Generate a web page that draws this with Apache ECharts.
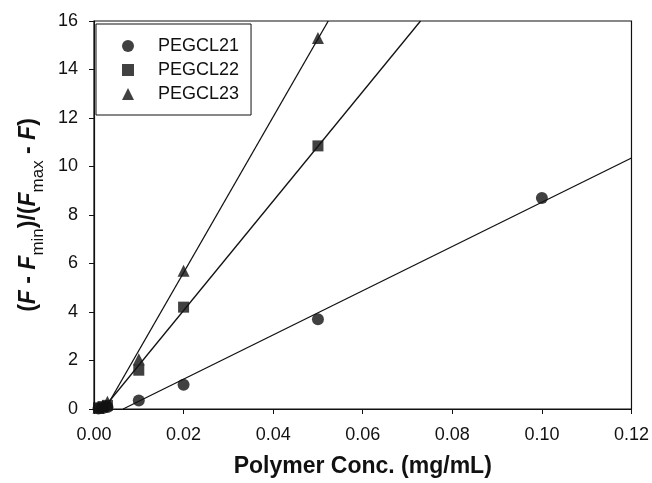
<!DOCTYPE html>
<html>
<head>
<meta charset="utf-8">
<script src="https://cdn.jsdelivr.net/npm/echarts@6/dist/echarts.min.js"></script>
<style>
  html, body { margin: 0; padding: 0; background: #fff; }
  #chart { width: 652px; height: 483px; }
</style>
</head>
<body>
<div id="chart"></div>
<script>
const x21 = [0.001, 0.002, 0.003, 0.01, 0.02, 0.05, 0.10]
const y21 = [0.02, 0.04, 0.08, 0.35, 1.0, 3.7, 8.7]
const x22 = [0.001, 0.002, 0.003, 0.01, 0.02, 0.05]
const y22 = [0.05, 0.1, 0.15, 1.6, 4.2, 10.85]
const x23 = [0.001, 0.002, 0.003, 0.01, 0.02, 0.05]
const y23 = [0.05, 0.12, 0.3, 2.05, 5.7, 15.3]

// regression lines (end points)
const fitX21 = [0.0065, 0.12]
const fitY21 = [0, 10.35]
const fitX22 = [0.002, 0.0729]
const fitY22 = [0, 16]
const fitX23 = [0.0025, 0.0523]
const fitY23 = [0, 16]

const xTicks = [0, 0.12, 0.02] // min, max, step
const yTicks = [0, 16, 2]

const zip = (xs, ys) => xs.map((x, i) => [x, ys[i]])

const font = 'Liberation Sans, Arial, sans-serif'
const ink = '#111'

const scatter = (name, symbol, size, xs, ys) => ({
  name,
  type: 'scatter',
  symbol,
  symbolSize: size,
  itemStyle: { color: ink },
  data: zip(xs, ys),
  z: 3,
})

const fit = (xs, ys) => ({
  type: 'line',
  showSymbol: false,
  symbol: 'none',
  lineStyle: { color: ink, width: 1.3 },
  data: zip(xs, ys),
  silent: true,
  z: 2,
})

const chart = echarts.init(document.getElementById('chart'))
chart.setOption({
  animation: false,
  backgroundColor: '#fff',
  textStyle: { fontFamily: font },
  grid: {
    left: 94, right: 19, top: 21, bottom: 74,
    show: true, borderColor: ink, borderWidth: 1.2,
  },
  legend: {
    left: 96, top: 24,
    orient: 'vertical',
    data: ['PEGCL21', 'PEGCL22', 'PEGCL23'],
    borderColor: ink, borderWidth: 1, borderRadius: 0,
    padding: [13, 12, 12, 26],
    itemGap: 6,
    itemWidth: 12, itemHeight: 12,
    textStyle: { fontSize: 18, color: ink, fontFamily: font, padding: [0, 0, 0, 19] },
  },
  xAxis: {
    type: 'value',
    min: xTicks[0], max: xTicks[1], interval: xTicks[2],
    name: 'Polymer Conc. (mg/mL)',
    nameLocation: 'middle',
    nameGap: 46,
    nameTextStyle: { fontSize: 23, fontWeight: 'bold', color: ink, fontFamily: font },
    axisLine: { lineStyle: { color: ink, width: 1.2 } },
    axisTick: { inside: false, length: 5, lineStyle: { color: ink } },
    axisLabel: { fontSize: 18, color: ink, margin: 17, formatter: v => v.toFixed(2) },
    splitLine: { show: false },
  },
  yAxis: {
    type: 'value',
    min: yTicks[0], max: yTicks[1], interval: yTicks[2],
    name: '{p|(}{f|F}{p| - }{f|F}{s|min}{p|)/(}{f|F}{s|max}{p| - }{f|F}{p|)}',
    nameLocation: 'middle',
    nameRotate: 90,
    nameGap: 52,
    nameTextStyle: {
      color: ink,
      rich: {
        p: { fontSize: 23, fontWeight: 'bold', fontFamily: font, color: ink, verticalAlign: 'bottom', lineHeight: 30 },
        f: { fontSize: 23, fontWeight: 'bold', fontStyle: 'italic', fontFamily: font, color: ink, verticalAlign: 'bottom', lineHeight: 30 },
        s: { fontSize: 17, fontFamily: font, color: ink, verticalAlign: 'bottom', lineHeight: 30, padding: [0, 0, -7, 0] },
      },
    },
    axisLine: { lineStyle: { color: ink, width: 1.2 } },
    axisTick: { inside: false, length: 5, lineStyle: { color: ink } },
    axisLabel: { fontSize: 18, color: ink, margin: 16 },
    splitLine: { show: false },
  },
  series: [
    fit(fitX21, fitY21),
    fit(fitX22, fitY22),
    fit(fitX23, fitY23),
    scatter('PEGCL21', 'circle', 12, x21, y21),
    scatter('PEGCL22', 'rect', 11, x22, y22),
    scatter('PEGCL23', 'triangle', 12, x23, y23),
  ],
})
</script>
</body>
</html>
